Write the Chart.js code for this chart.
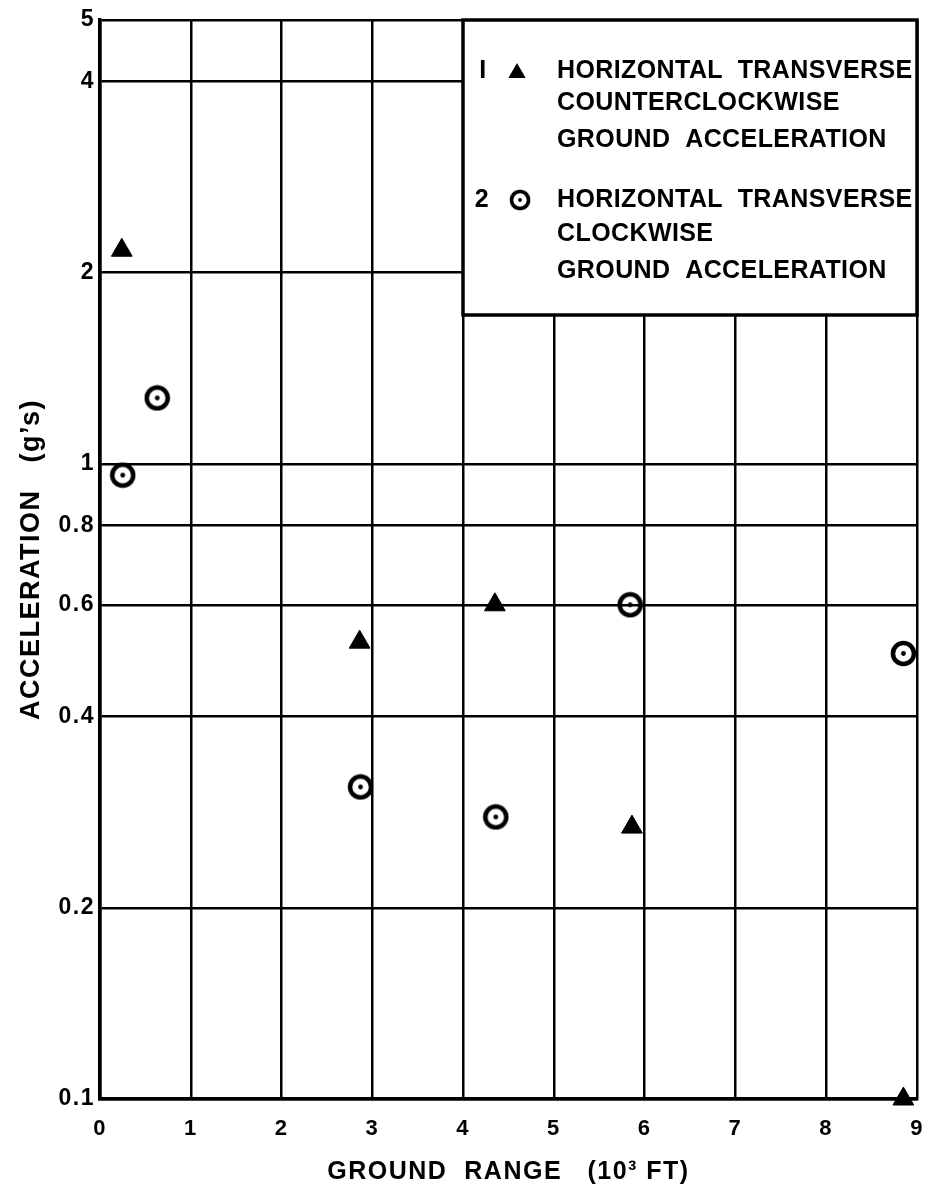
<!DOCTYPE html>
<html>
<head>
<meta charset="utf-8">
<script src="https://cdn.jsdelivr.net/npm/chart.js@4/dist/chart.umd.min.js"></script>
<style>
  html, body { margin: 0; padding: 0; background: #fff; }
  #wrap { width: 931px; height: 1187px; }
</style>
</head>
<body>
<div id="wrap"><canvas id="c" width="931" height="1187"></canvas></div>
<script>
// ---- data ----
const xTickValues = [0, 1, 2, 3, 4, 5, 6, 7, 8, 9];
const yTickValues = [0.1, 0.2, 0.4, 0.6, 0.8, 1, 2, 4, 5];
const yTickLabels = ['0.1', '0.2', '0.4', '0.6', '0.8', '1', '2', '4', '5'];

const ccwX = [0.24, 2.86, 4.35, 5.86, 8.85];
const ccwY = [2.17, 0.524, 0.60, 0.268, 0.10];

const cwX = [0.25, 0.63, 2.87, 4.36, 5.84, 8.85];
const cwY = [0.96, 1.27, 0.31, 0.278, 0.60, 0.503];

const legendNumbers = ['I', '2'];
const legendLines1 = ['HORIZONTAL  TRANSVERSE', 'COUNTERCLOCKWISE', 'GROUND  ACCELERATION'];
const legendLines2 = ['HORIZONTAL  TRANSVERSE', 'CLOCKWISE', 'GROUND  ACCELERATION'];

const xTitle = 'GROUND  RANGE   (10\u00B3 FT)';
const yTitle = 'ACCELERATION   (g\u2019s)';

// ---- marker image for circled dot ----
function makeRing(size) {
  const c = document.createElement('canvas');
  c.width = size; c.height = size;
  const g = c.getContext('2d');
  g.strokeStyle = '#000';
  g.lineWidth = 4.5;
  g.beginPath();
  g.arc(size / 2, size / 2, size / 2 - 3, 0, Math.PI * 2);
  g.stroke();
  g.fillStyle = '#000';
  g.beginPath();
  g.arc(size / 2, size / 2, 2.4, 0, Math.PI * 2);
  g.fill();
  return c;
}
const ring = makeRing(27);

const FONT = "'Liberation Sans', Arial, sans-serif";

const spacingPlugin = {
  id: 'spacing',
  beforeDraw(chart) { chart.ctx.letterSpacing = '1.5px'; }
};

const legendPlugin = {
  id: 'boxLegend',
  afterDraw(chart) {
    const ctx = chart.ctx;
    const area = chart.chartArea;
    const x0 = 463, y0 = area.top, x1 = area.right, y1 = 315;
    ctx.save();
    ctx.fillStyle = '#fff';
    ctx.fillRect(x0, y0, x1 - x0, y1 - y0);
    ctx.strokeStyle = '#000';
    ctx.lineWidth = 3.5;
    ctx.strokeRect(x0, y0, x1 - x0, y1 - y0);
    ctx.fillStyle = '#000';
    ctx.font = 'bold 25px ' + FONT;
    ctx.letterSpacing = '0.4px';
    ctx.textBaseline = 'middle';
    ctx.textAlign = 'left';
    const rows1 = [71, 103, 140];
    const rows2 = [200, 234, 271];
    legendLines1.forEach((t, i) => ctx.fillText(t, 557, rows1[i]));
    legendLines2.forEach((t, i) => ctx.fillText(t, 557, rows2[i]));
    ctx.textAlign = 'center';
    ctx.fillText(legendNumbers[0], 483, rows1[0]);
    ctx.fillText(legendNumbers[1], 482, rows2[0]);
    // triangle marker
    const tx = 517, ty = rows1[0] + 2, r = 10;
    ctx.beginPath();
    ctx.moveTo(tx, ty - r);
    ctx.lineTo(tx + r * Math.sin(2 * Math.PI / 3), ty + r / 2);
    ctx.lineTo(tx - r * Math.sin(2 * Math.PI / 3), ty + r / 2);
    ctx.closePath();
    ctx.fill();
    ctx.drawImage(ring, 520 - 11, rows2[0] - 11, 22, 22);
    ctx.restore();
  }
};

new Chart(document.getElementById('c'), {
  type: 'scatter',
  data: {
    datasets: [
      {
        label: 'Horizontal transverse counterclockwise ground acceleration',
        data: ccwX.map((x, i) => ({ x: x, y: ccwY[i] })),
        pointStyle: 'triangle',
        pointRadius: 12,
        backgroundColor: '#000',
        borderColor: '#000',
        borderWidth: 1,
        clip: false
      },
      {
        label: 'Horizontal transverse clockwise ground acceleration',
        data: cwX.map((x, i) => ({ x: x, y: cwY[i] })),
        pointStyle: ring,
        pointRadius: 13,
        clip: false
      }
    ]
  },
  options: {
    responsive: false,
    animation: false,
    events: [],
    layout: { padding: { top: 20, right: 6, left: 0, bottom: 0 } },
    plugins: { legend: { display: false }, tooltip: { enabled: false } },
    scales: {
      x: {
        type: 'linear',
        min: 0, max: 9,
        afterBuildTicks(scale) { scale.ticks = xTickValues.map(v => ({ value: v })); },
        afterFit(scale) { scale.height = 88; scale.paddingRight = 0; scale.paddingLeft = 0; },
        ticks: { color: '#000', font: { family: FONT, size: 22, weight: 'bold' }, padding: 17, maxRotation: 0, autoSkip: false },
        grid: { color: '#000', lineWidth: 2.5, drawTicks: false },
        border: { color: '#000', width: 3.5 },
        title: { display: true, text: xTitle, color: '#000', font: { family: FONT, size: 25, weight: 'bold' }, padding: { top: 0, bottom: 0 } }
      },
      y: {
        type: 'logarithmic',
        min: 0.1, max: 5,
        afterBuildTicks(scale) { scale.ticks = yTickValues.map(v => ({ value: v })); },
        afterFit(scale) { scale.width = 100; scale.paddingTop = 0; scale.paddingBottom = 0; },
        ticks: {
          color: '#000', font: { family: FONT, size: 23, weight: 'bold' }, padding: 5, autoSkip: false,
          callback(v) { const i = yTickValues.indexOf(v); return i >= 0 ? yTickLabels[i] : ''; }
        },
        grid: { color: '#000', lineWidth: 2.5, drawTicks: false },
        border: { color: '#000', width: 3.5 },
        title: { display: true, text: yTitle, color: '#000', font: { family: FONT, size: 27, weight: 'bold' }, padding: { top: 15, bottom: 0 } }
      }
    }
  },
  plugins: [spacingPlugin, legendPlugin]
});
</script>
</body>
</html>
